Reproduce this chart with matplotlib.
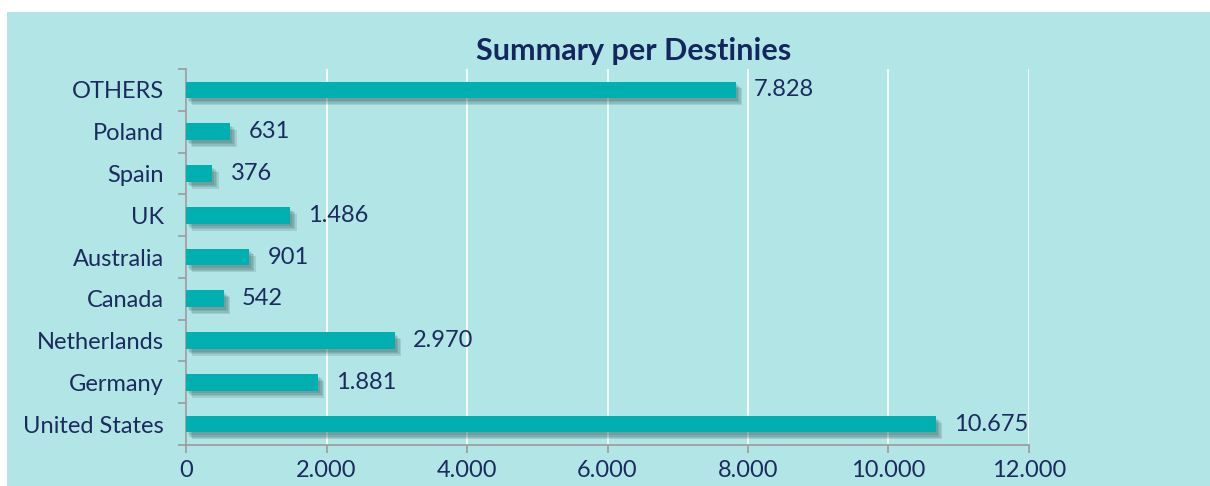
import matplotlib
matplotlib.use("Agg")
import matplotlib.pyplot as plt
import matplotlib.patheffects as pe
from matplotlib.patches import Rectangle
from matplotlib.ticker import FixedLocator

categories = ["United States", "Germany", "Netherlands", "Canada", "Australia",
              "UK", "Spain", "Poland", "OTHERS"]
values = [10675, 1881, 2970, 542, 901, 1486, 376, 631, 7828]
xticks = [0, 2000, 4000, 6000, 8000, 10000, 12000]

BG = "#B2E5E6"
BAR = "#00AFB0"
TXT = "#1B2B5E"
AXC = "#9A9A9A"

plt.rcParams['font.family'] = ['Lato', 'DejaVu Sans']

W, H = 1210, 486
fig = plt.figure(figsize=(W / 100, H / 100), dpi=100, facecolor="white")
fig.patches.append(Rectangle((7 / W, 0), 1 - 7 / W, 1 - 12 / H, transform=fig.transFigure,
                             facecolor=BG, edgecolor="none", zorder=-10))

ax = fig.add_axes([186 / W, 1 - 445 / H, (1029 - 186) / W, (445 - 69) / H])
ax.set_facecolor(BG)
ax.patch.set_alpha(0)

ys = list(range(len(categories)))
bars = ax.barh(ys, values, height=0.4, color=BAR, zorder=3)
shadow = [pe.withSimplePatchShadow(offset=(d, -d - 0.5), shadow_rgbFace="#1f3f40", alpha=0.13)
          for d in (4.5, 3.5, 2.5, 1.5)]
for b in bars:
    b.set_path_effects(shadow + [pe.Normal()])

for y, v in zip(ys, values):
    ax.annotate(f"{v:,}".replace(",", "."), xy=(v, y), xytext=(13, 0), textcoords="offset points",
                ha="left", va="center", fontsize=17, color=TXT, zorder=4)

ax.set_xlim(0, 12000)
ax.set_ylim(-0.5, len(categories) - 0.5)
ax.set_xticks(xticks)
ax.set_xticklabels([f"{t:,}".replace(",", ".") for t in xticks], fontsize=17, color=TXT)
ax.set_yticks(ys)
ax.set_yticklabels(categories, fontsize=17, color=TXT)
ax.yaxis.set_minor_locator(FixedLocator([i - 0.5 for i in range(len(categories) + 1)]))
ax.tick_params(axis="y", which="major", length=0, pad=16)
ax.tick_params(axis="y", which="minor", length=6, color=AXC, width=1.2)
ax.tick_params(axis="x", which="major", length=6, color=AXC, width=1.2, pad=5)

for s in ["top", "right"]:
    ax.spines[s].set_visible(False)
for s in ["left", "bottom"]:
    ax.spines[s].set_color(AXC)
    ax.spines[s].set_linewidth(1.2)

ax.grid(axis="x", color="white", linewidth=1.2, zorder=1)
ax.set_axisbelow(True)

fig.text(634 / W, 1 - 51 / H, "Summary per Destinies", ha="center", va="center",
         fontsize=22, fontweight="bold", color="#13275E")

fig.savefig("out.png", dpi=100, facecolor="white")
